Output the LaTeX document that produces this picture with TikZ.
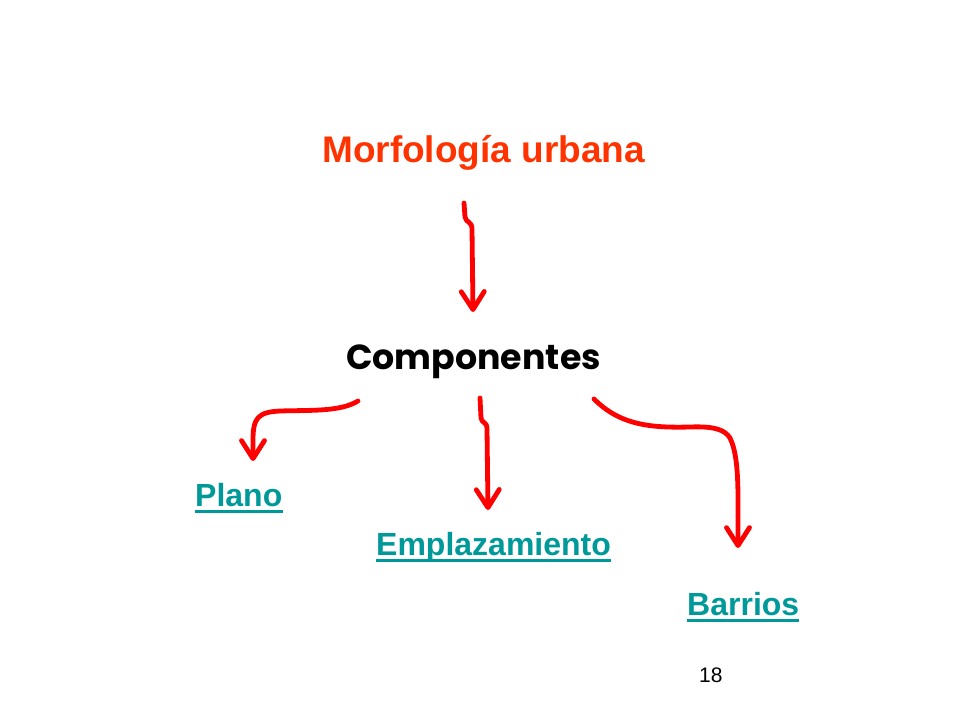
\documentclass[tikz,border=0pt]{standalone}
\usepackage{fontspec}
\setmainfont{Liberation Sans}
\newfontfamily\compfont{Poppins}
\usetikzlibrary{arrows.meta}
\definecolor{titlecol}{HTML}{FF3300}
\definecolor{linkcol}{HTML}{009999}
\definecolor{arrowcol}{HTML}{FF0000}
\tikzset{
  lbl/.style={inner sep=0pt, anchor=base west},
  linklbl/.style={lbl, text=linkcol, font=\fontsize{32}{38}\selectfont\bfseries},
  uline/.style={draw=linkcol, line width=2.2pt},
  redarrow/.style={draw=arrowcol, line width=4.8pt, line cap=round, line join=round,
    -{Straight Barb[length=18pt,width=23pt,round]}}
}
\begin{document}
\begin{tikzpicture}[x=1pt,y=-1pt]
\useasboundingbox (0,0) rectangle (960,720);
\node[lbl, text=titlecol, font=\fontsize{37}{44}\selectfont\bfseries] (title) at (322,162) {Morfología urbana};
\node[lbl, font=\compfont\fontsize{34.8}{42}\selectfont\bfseries] (comp) at (346,369) {Componentes};
\node[linklbl] (plano) at (195,506) {Plano};
\node[linklbl] (empl) at (376,555) {Emplazamiento};
\node[linklbl] (barr) at (687,615) {Barrios};
\node[lbl, font=\fontsize{21}{25}\selectfont] (num) at (699,682) {18};
\foreach \n in {plano,empl,barr}
  \draw[uline] ([yshift=-5.5pt]\n.base west) -- ([yshift=-5.5pt]\n.base east);
% arrow end points
\coordinate (t0) at (464,203);
\coordinate (t1) at (473,312);
\coordinate (l0) at (358,401);
\coordinate (l1) at (253,461);
\coordinate (m0) at (480,398);
\coordinate (m1) at (488,510);
\coordinate (r0) at (594,399);
\coordinate (r1) at (738,548);
\draw[redarrow] (t0) -- (465,217) .. controls (466,223) and (472,221) .. (472,229) -- (t1);
\draw[redarrow] (l0) .. controls (340,412) and (310,410) .. (280,411) .. controls (258,412) and (253,418) .. (253,440) -- (l1);
\draw[redarrow] (m0) -- (481,418) .. controls (482,424) and (487,421) .. (487,429) -- (m1);
\draw[redarrow] (r0) .. controls (620,425) and (650,428) .. (690,427) .. controls (715,426) and (725,430) .. (730,438) .. controls (736,450) and (738,470) .. (738,500) -- (r1);
\end{tikzpicture}
\end{document}
